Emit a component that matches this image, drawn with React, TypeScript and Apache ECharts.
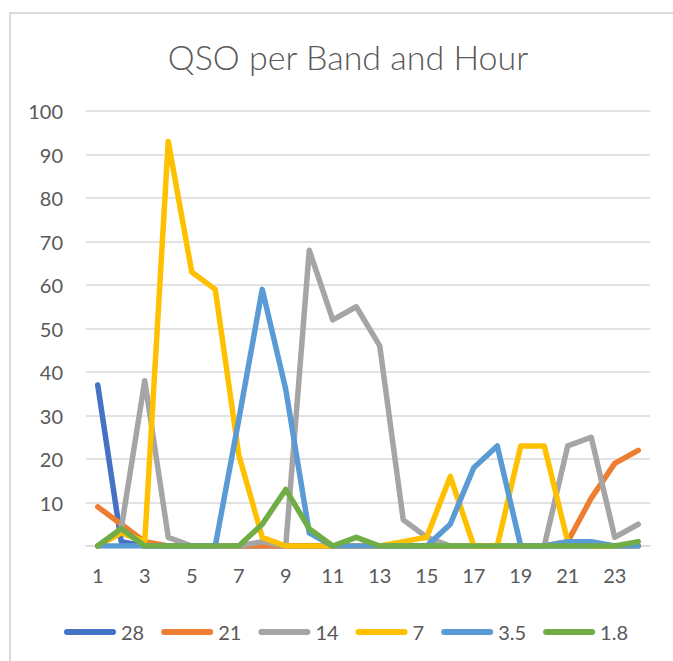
import React, { useEffect, useRef } from "react";
import * as echarts from "echarts";

const hours = ["1","2","3","4","5","6","7","8","9","10","11","12","13","14","15","16","17","18","19","20","21","22","23","24"];
const yTicks = [0, 10, 20, 30, 40, 50, 60, 70, 80, 90, 100];
const bandNames = ["28", "21", "14", "7", "3.5", "1.8"];
const band28 = [37, 1, 0, 0, 0, 0, 0, 0, 0, 0, 0, 0, 0, 0, 0, 0, 0, 0, 0, 0, 0, 0, 0, 0];
const band21 = [9, 5, 1, 0, 0, 0, 0, 0, 0, 0, 0, 0, 0, 0, 0, 0, 0, 0, 0, 0, 1, 11, 19, 22];
const band14 = [0, 4, 38, 2, 0, 0, 0, 1, 0, 68, 52, 55, 46, 6, 2, 0, 0, 0, 0, 0, 23, 25, 2, 5];
const band7 = [0, 3, 1, 93, 63, 59, 21, 2, 0, 0, 0, 0, 0, 1, 2, 16, 0, 0, 23, 23, 1, 0, 0, 0];
const band35 = [0, 0, 0, 0, 0, 0, 29, 59, 36, 3, 0, 0, 0, 0, 0, 5, 18, 23, 0, 0, 1, 1, 0, 0];
const band18 = [0, 4, 0, 0, 0, 0, 0, 5, 13, 4, 0, 2, 0, 0, 0, 0, 0, 0, 0, 0, 0, 0, 0, 1];
const bandValues = [band28, band21, band14, band7, band35, band18];
const colors = ["#4472C4", "#ED7D31", "#A5A5A5", "#FFC000", "#5B9BD5", "#70AD47"];

const FONT = "Lato, 'Open Sans', sans-serif";
const PILL = "path://M3,0 L49,0 A3,3 0 0 1 49,6 L3,6 A3,3 0 0 1 3,0 Z";

export default function App() {
  const ref = useRef<HTMLDivElement>(null);
  useEffect(() => {
    if (!ref.current) return;
    const chart = echarts.init(ref.current, undefined, { renderer: "svg" });
    chart.setOption({
      animation: false,
      backgroundColor: "#ffffff",
      title: {
        text: "QSO per Band and Hour",
        left: 343,
        top: 34,
        textAlign: "center",
        textStyle: { fontFamily: FONT, fontSize: 34, fontWeight: 300, color: "#595959" },
      },
      graphic: [
        {
          type: "rect",
          shape: { x: 10, y: 13, width: 720, height: 720 },
          style: { fill: "none", stroke: "#d9d9d9", lineWidth: 2 },
          silent: true,
        },
      ],
      legend: {
        data: bandNames.map((name) => ({ name, icon: PILL })),
        left: 59,
        top: 617,
        orient: "horizontal",
        itemWidth: 52,
        itemHeight: 6,
        itemGap: 17,
        textStyle: { fontFamily: FONT, fontSize: 20, color: "#595959" },
      },
      grid: { left: 86, right: 23, top: 111, bottom: 115, containLabel: false },
      xAxis: {
        type: "category",
        data: hours,
        boundaryGap: true,
        axisTick: { show: false },
        axisLine: { show: true, lineStyle: { color: "#d9d9d9", width: 1.5 } },
        axisLabel: { interval: 1, margin: 19, fontFamily: FONT, fontSize: 20, color: "#595959" },
        splitLine: { show: false },
      },
      yAxis: {
        type: "value",
        min: yTicks[0],
        max: yTicks[yTicks.length - 1],
        interval: 10,
        axisLine: { show: false },
        axisTick: { show: false },
        axisLabel: {
          margin: 23,
          fontFamily: FONT,
          fontSize: 20,
          color: "#595959",
          formatter: (v: number) => (v === 0 ? "" : String(v)),
        },
        splitLine: { lineStyle: { color: "#d9d9d9", width: 1.5 } },
      },
      series: bandNames.map((name, i) => ({
        name,
        type: "line",
        data: bandValues[i],
        symbol: "none",
        smooth: false,
        color: colors[i],
        lineStyle: { width: 5.5, color: colors[i], cap: "round", join: "round" },
        z: 2 + i,
      })),
    });
    return () => chart.dispose();
  }, []);
  return (
    <div
      ref={ref}
      style={{ position: "fixed", left: 0, top: 0, width: 673, height: 661 }}
    />
  );
}
